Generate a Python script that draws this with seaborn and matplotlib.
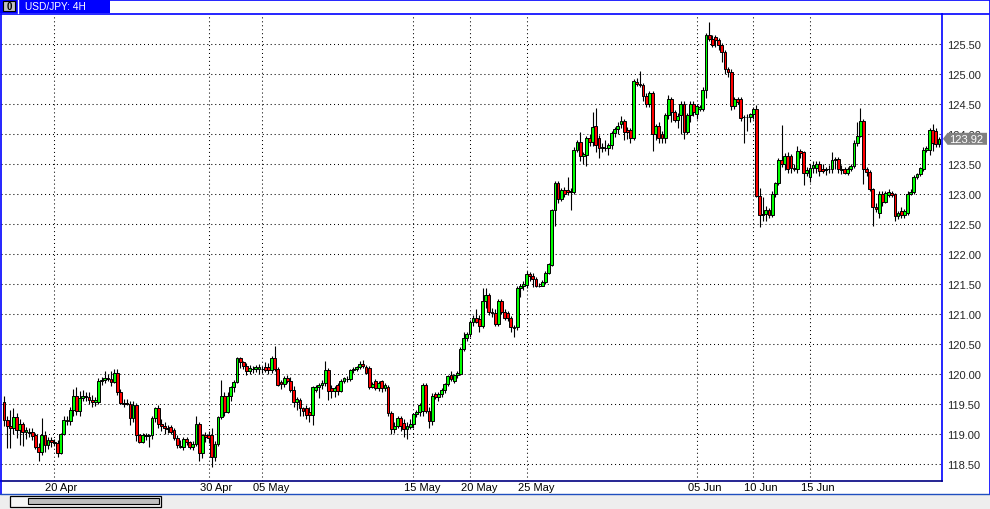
import matplotlib
matplotlib.use("Agg")
import numpy as np
import pandas as pd
import matplotlib.pyplot as plt
import matplotlib.patches as patches
import matplotlib.transforms as mtrans
from matplotlib.lines import Line2D
import seaborn as sns

# 4H candles (oldest first)
OPENS = [
    119.54, 119.24, 119.13, 119.10, 119.28, 119.06, 119.16, 119.03, 119.03, 119.04,
    118.98, 118.79, 118.70, 118.99, 118.82, 118.90, 118.86, 118.85, 118.68, 119.00,
    119.24, 119.21, 119.40, 119.63, 119.38, 119.60, 119.63, 119.62, 119.57, 119.53,
    119.53, 119.88, 119.90, 119.93, 119.91, 119.87, 120.02, 119.70, 119.52, 119.52,
    119.50, 119.26, 119.48, 118.98, 118.87, 118.99, 118.96, 118.98, 119.26, 119.43,
    119.17, 119.13, 119.10, 119.11, 119.07, 118.93, 118.80, 118.78, 118.91, 118.86,
    118.78, 118.83, 119.17, 118.68, 118.99, 118.99, 118.99, 118.61, 118.83, 119.29,
    119.64, 119.37, 119.64, 119.78, 119.87, 120.26, 120.20, 120.14, 120.05, 120.09,
    120.09, 120.08, 120.09, 120.12, 120.12, 120.06, 120.26, 120.08, 119.87, 119.83,
    119.94, 119.89, 119.74, 119.54, 119.57, 119.43, 119.44, 119.37, 119.31, 119.74,
    119.78, 119.81, 119.85, 120.06, 119.77, 119.72, 119.81, 119.72, 119.89, 119.92,
    119.91, 120.06, 120.09, 120.11, 120.17, 120.11, 120.10, 119.79, 119.88, 119.77,
    119.88, 119.76, 119.79, 119.35, 119.09, 119.13, 119.26, 119.18, 119.09, 119.11,
    119.17, 119.33, 119.37, 119.39, 119.82, 119.39, 119.21, 119.66, 119.61, 119.67,
    119.73, 119.83, 119.99, 119.89, 119.98, 120.00, 120.42, 120.60, 120.67, 120.86,
    120.94, 120.92, 120.80, 121.21, 121.31, 121.04, 121.02, 120.83, 121.21, 121.03,
    121.01, 120.93, 120.79, 120.78, 121.44, 121.47, 121.48, 121.67, 121.64, 121.59,
    121.47, 121.47, 121.54, 121.68, 121.82, 122.74, 123.18, 122.91, 123.07, 123.07,
    123.05, 123.03, 123.74, 123.86, 123.64, 123.65, 123.93, 123.86, 124.13, 123.93,
    123.76, 123.77, 123.76, 123.81, 124.02, 124.09, 124.17, 124.22, 124.07, 124.07,
    123.94, 124.87, 124.84, 124.82, 124.63, 124.50, 124.68, 124.00, 124.14, 124.00,
    123.93, 124.31, 124.59, 124.36, 124.24, 124.31, 124.50, 124.04, 124.31, 124.50,
    124.34, 124.42, 124.42, 124.74, 125.65, 125.59, 125.62, 125.57, 125.48, 125.36,
    125.09, 125.04, 124.46, 124.58, 124.58, 124.29, 124.29, 124.29, 124.33, 124.41,
    122.97, 122.65, 122.67, 122.74, 122.65, 123.00, 123.19, 123.57, 123.50, 123.64,
    123.63, 123.42, 123.42, 123.72, 123.70, 123.35, 123.29, 123.44, 123.43, 123.50,
    123.41, 123.40, 123.41, 123.41, 123.57, 123.58, 123.42, 123.41, 123.35, 123.41,
    123.46, 123.85, 123.97, 124.21, 123.42, 123.37, 123.08, 122.78, 122.68, 123.00,
    122.87, 122.99, 123.01, 123.00, 122.63, 122.72, 122.65, 122.69, 123.00, 123.04,
    123.29, 123.33, 123.42, 123.74, 123.74, 124.07, 124.05, 123.83,
]
HIGHS = [
    119.63, 119.30, 119.40, 119.43, 119.35, 119.25, 119.20, 119.12, 119.10, 119.10,
    119.02, 118.85, 119.27, 119.05, 118.95, 118.95, 118.92, 118.90, 119.02, 119.30,
    119.30, 119.45, 119.75, 119.78, 119.72, 119.73, 119.70, 119.70, 119.65, 119.62,
    119.93, 119.95, 120.05, 120.00, 120.05, 120.08, 120.08, 119.75, 119.58, 119.58,
    119.55, 119.55, 119.52, 119.00, 119.02, 119.02, 119.00, 119.30, 119.45, 119.48,
    119.25, 119.20, 119.15, 119.15, 119.10, 118.98, 118.90, 118.95, 118.95, 118.88,
    118.88, 119.30, 119.20, 119.00, 119.03, 119.05, 119.10, 118.88, 119.30, 119.90,
    119.70, 119.70, 119.80, 119.90, 120.28, 120.28, 120.22, 120.18, 120.15, 120.14,
    120.15, 120.16, 120.14, 120.20, 120.18, 120.30, 120.46, 120.12, 119.90, 119.96,
    119.98, 119.95, 119.80, 119.62, 119.60, 119.45, 119.48, 119.45, 119.80, 119.82,
    119.85, 119.90, 120.21, 120.10, 119.82, 119.80, 119.85, 119.92, 119.95, 119.96,
    120.08, 120.12, 120.14, 120.22, 120.24, 120.15, 120.13, 119.86, 119.92, 119.88,
    119.90, 119.85, 119.82, 119.38, 119.20, 119.30, 119.30, 119.25, 119.20, 119.25,
    119.35, 119.40, 119.52, 119.85, 119.85, 119.45, 119.68, 119.70, 119.70, 119.76,
    119.85, 119.98, 120.05, 120.00, 120.05, 120.45, 120.70, 120.70, 120.90, 120.98,
    121.08, 120.98, 121.44, 121.44, 121.35, 121.10, 121.08, 121.25, 121.25, 121.08,
    121.05, 120.96, 120.82, 121.46, 121.50, 121.55, 121.72, 121.70, 121.68, 121.62,
    121.52, 121.56, 121.72, 121.85, 122.75, 123.22, 123.22, 123.10, 123.12, 123.28,
    123.10, 123.78, 123.90, 124.04, 123.70, 123.96, 124.00, 124.37, 124.44, 123.98,
    123.85, 123.90, 123.85, 124.05, 124.12, 124.20, 124.30, 124.25, 124.12, 124.10,
    124.92, 124.93, 125.05, 124.85, 124.68, 124.72, 124.72, 124.16, 124.20, 124.05,
    124.35, 124.65, 124.62, 124.40, 124.35, 124.55, 124.55, 124.35, 124.55, 124.55,
    124.50, 124.48, 124.78, 125.68, 125.86, 125.65, 125.65, 125.60, 125.52, 125.40,
    125.12, 125.08, 124.62, 124.62, 124.62, 124.32, 124.33, 124.35, 124.45, 124.48,
    123.10, 122.95, 122.80, 122.76, 123.05, 123.20, 123.60, 124.15, 123.68, 123.70,
    123.66, 123.50, 123.80, 123.75, 123.72, 123.45, 123.50, 123.55, 123.55, 123.55,
    123.50, 123.45, 123.48, 123.70, 123.62, 123.62, 123.48, 123.45, 123.45, 123.50,
    123.90, 124.20, 124.44, 124.25, 123.45, 123.40, 123.10, 122.85, 123.05, 123.05,
    123.05, 123.08, 123.05, 123.02, 122.72, 122.78, 122.75, 123.05, 123.08, 123.32,
    123.35, 123.45, 123.78, 123.80, 124.10, 124.16, 124.10, 123.95,
]
LOWS = [
    119.13, 118.77, 118.77, 119.00, 118.93, 118.82, 118.80, 118.92, 118.95, 118.90,
    118.75, 118.55, 118.65, 118.70, 118.75, 118.78, 118.80, 118.62, 118.66, 118.98,
    119.15, 119.15, 119.30, 119.32, 119.30, 119.55, 119.55, 119.50, 119.45, 119.46,
    119.50, 119.82, 119.85, 119.88, 119.80, 119.85, 119.65, 119.50, 119.45, 119.48,
    119.15, 119.20, 118.88, 118.85, 118.85, 118.90, 118.78, 118.92, 119.20, 119.10,
    119.05, 119.00, 119.02, 119.00, 118.90, 118.76, 118.76, 118.74, 118.82, 118.75,
    118.74, 118.80, 118.55, 118.60, 118.86, 118.85, 118.45, 118.55, 118.80, 119.25,
    119.30, 119.35, 119.55, 119.70, 119.85, 120.10, 120.08, 119.98, 120.00, 120.02,
    120.03, 120.00, 120.02, 120.04, 120.00, 120.02, 120.05, 119.80, 119.75, 119.78,
    119.85, 119.70, 119.45, 119.40, 119.30, 119.30, 119.25, 119.20, 119.15, 119.70,
    119.60, 119.75, 119.80, 119.57, 119.60, 119.62, 119.65, 119.70, 119.85, 119.86,
    119.88, 120.02, 120.05, 120.08, 120.10, 120.00, 119.75, 119.76, 119.74, 119.72,
    119.70, 119.72, 119.30, 119.00, 119.02, 119.10, 119.05, 118.95, 118.92, 119.08,
    119.10, 119.28, 119.30, 119.30, 119.35, 119.10, 119.15, 119.58, 119.55, 119.62,
    119.68, 119.80, 119.88, 119.85, 119.94, 119.98, 120.38, 120.55, 120.62, 120.80,
    120.85, 120.70, 120.76, 121.10, 120.98, 120.95, 120.80, 120.80, 121.00, 120.90,
    120.88, 120.70, 120.61, 120.74, 121.28, 121.40, 121.44, 121.55, 121.45, 121.45,
    121.45, 121.46, 121.50, 121.66, 121.80, 122.47, 122.85, 122.88, 122.95, 122.98,
    122.74, 123.00, 123.70, 123.55, 123.50, 123.46, 123.80, 123.80, 123.70, 123.60,
    123.70, 123.72, 123.65, 123.75, 123.95, 124.00, 124.10, 123.90, 123.92, 123.85,
    123.90, 124.80, 124.78, 124.55, 124.45, 124.45, 123.72, 123.90, 123.85, 123.85,
    123.85, 124.25, 124.20, 124.20, 124.10, 124.00, 123.92, 124.00, 124.20, 124.30,
    124.25, 124.38, 124.38, 124.60, 125.55, 125.45, 125.45, 125.40, 125.20, 125.00,
    124.95, 124.40, 124.42, 124.50, 124.22, 123.85, 124.05, 124.20, 124.25, 122.95,
    122.45, 122.55, 122.55, 122.60, 122.62, 122.95, 123.15, 123.45, 123.40, 123.35,
    123.35, 123.38, 123.35, 123.60, 123.15, 123.30, 123.20, 123.35, 123.35, 123.30,
    123.35, 123.32, 123.35, 123.35, 123.42, 123.35, 123.33, 123.33, 123.32, 123.38,
    123.44, 123.80, 123.95, 123.17, 123.30, 123.05, 122.47, 122.70, 122.60, 122.80,
    122.85, 122.95, 122.95, 122.55, 122.58, 122.60, 122.60, 122.65, 122.98, 123.00,
    123.25, 123.30, 123.38, 123.70, 123.65, 123.72, 123.78, 123.78,
]
CLOSES = [
    119.24, 119.13, 119.10, 119.28, 119.06, 119.16, 119.03, 119.06, 119.02, 118.96,
    118.79, 118.70, 118.99, 118.82, 118.90, 118.86, 118.85, 118.68, 119.00, 119.24,
    119.21, 119.40, 119.63, 119.38, 119.60, 119.63, 119.62, 119.57, 119.53, 119.56,
    119.88, 119.90, 119.93, 119.91, 119.87, 120.02, 119.70, 119.52, 119.50, 119.50,
    119.26, 119.48, 118.98, 118.87, 118.99, 118.96, 118.98, 119.26, 119.43, 119.17,
    119.13, 119.10, 119.08, 119.04, 118.93, 118.81, 118.79, 118.91, 118.86, 118.78,
    118.84, 119.17, 118.68, 118.99, 118.95, 118.93, 118.61, 118.83, 119.29, 119.64,
    119.37, 119.64, 119.78, 119.87, 120.26, 120.20, 120.14, 120.05, 120.10, 120.09,
    120.11, 120.11, 120.09, 120.07, 120.06, 120.26, 120.08, 119.82, 119.83, 119.94,
    119.89, 119.74, 119.54, 119.59, 119.43, 119.39, 119.31, 119.31, 119.78, 119.78,
    119.81, 119.85, 120.06, 119.72, 119.72, 119.76, 119.72, 119.89, 119.93, 119.91,
    120.06, 120.09, 120.11, 120.17, 120.14, 120.02, 119.79, 119.84, 119.77, 119.85,
    119.76, 119.81, 119.35, 119.09, 119.14, 119.26, 119.14, 119.09, 119.14, 119.17,
    119.33, 119.37, 119.49, 119.82, 119.39, 119.21, 119.63, 119.61, 119.67, 119.74,
    119.83, 119.96, 119.91, 119.98, 120.02, 120.42, 120.60, 120.67, 120.86, 120.94,
    120.87, 120.80, 121.21, 121.31, 121.04, 121.02, 120.83, 121.21, 121.03, 120.94,
    120.93, 120.79, 120.76, 121.44, 121.47, 121.50, 121.67, 121.64, 121.59, 121.47,
    121.46, 121.54, 121.68, 121.83, 122.74, 123.18, 122.91, 123.07, 123.00, 123.03,
    123.03, 123.74, 123.86, 123.64, 123.66, 123.93, 123.86, 124.11, 123.82, 123.76,
    123.78, 123.76, 123.81, 124.02, 124.09, 124.14, 124.22, 124.03, 124.03, 123.94,
    124.88, 124.84, 124.81, 124.63, 124.50, 124.68, 124.00, 124.13, 123.93, 123.93,
    124.31, 124.59, 124.36, 124.24, 124.30, 124.50, 124.04, 124.31, 124.50, 124.36,
    124.46, 124.45, 124.74, 125.65, 125.59, 125.48, 125.57, 125.48, 125.36, 125.09,
    125.04, 124.46, 124.59, 124.54, 124.26, 124.29, 124.29, 124.33, 124.41, 122.97,
    122.65, 122.67, 122.74, 122.65, 123.00, 123.19, 123.56, 123.50, 123.64, 123.42,
    123.43, 123.44, 123.72, 123.69, 123.35, 123.40, 123.44, 123.49, 123.50, 123.39,
    123.39, 123.42, 123.42, 123.57, 123.58, 123.42, 123.40, 123.35, 123.41, 123.46,
    123.85, 123.96, 124.21, 123.42, 123.37, 123.08, 122.78, 122.75, 123.00, 122.87,
    123.02, 123.04, 122.99, 122.63, 122.69, 122.65, 122.72, 123.00, 123.04, 123.29,
    123.33, 123.43, 123.74, 123.77, 124.07, 123.85, 123.83, 123.92,
]

PRICE_TICKS = [118.5, 119.0, 119.5, 120.0, 120.5, 121.0, 121.5, 122.0,
               122.5, 123.0, 123.5, 124.0, 124.5, 125.0, 125.5]
DATE_BARS = [16, 65, 82, 130, 148, 166, 220, 238, 256]
DATE_LABELS = ["20 Apr", "30 Apr", "05 May", "15 May", "20 May",
               "25 May", "05 Jun", "10 Jun", "15 Jun"]
SYMBOL = "USD/JPY: 4H"
LAST_PRICE = 123.92

W, H = 990, 510
BULL = "#00ff00"
BEAR = "#ff0000"
FRAME = "#0000ff"


def fx(x):
    return x / W


def fy(y):
    return 1 - y / H


df = pd.DataFrame({"open": OPENS, "high": HIGHS, "low": LOWS, "close": CLOSES})
df["bar"] = np.arange(len(df))
df["up"] = df["close"] >= df["open"]

sns.set_style("white")
plt.rcParams["font.family"] = ["Liberation Sans", "DejaVu Sans"]

fig = plt.figure(figsize=(W / 100, H / 100), dpi=100)
fig.patch.set_facecolor("white")

# plot area: x 1..942, y 15..482 px
ax = fig.add_axes([fx(1), fy(482), fx(941), (482 - 15) / H])
n = len(df)
ax.set_xlim(-0.95, n - 1 + 0.95)
ax.set_ylim(118.217, 126.0)

ax.vlines(df["bar"], df["low"], df["high"], color="black", linewidth=0.8, zorder=2)
ax.bar(df["bar"], (df["close"] - df["open"]).abs(),
       bottom=df[["open", "close"]].min(axis=1), width=0.9,
       color=np.where(df["up"], BULL, BEAR), edgecolor="black",
       linewidth=0.7, zorder=3)

ax.set_yticks(PRICE_TICKS)
ax.set_yticklabels([f"{p:.2f}" for p in PRICE_TICKS], fontsize=8)
ax.yaxis.tick_right()
ax.tick_params(axis="y", length=0, pad=4)
ax.set_xticks(DATE_BARS)
ax.set_xticklabels([])
ax.tick_params(axis="x", length=0)
ax.grid(True, color="black", linestyle=(0, (1, 2.8)), linewidth=0.75)
ax.set_axisbelow(True)

for side in ["left", "top", "right"]:
    ax.spines[side].set_color(FRAME)
    ax.spines[side].set_linewidth(1.2)
ax.spines["bottom"].set_color("#000080")
ax.spines["bottom"].set_linewidth(1.2)

# date labels below the plot
trans = mtrans.blended_transform_factory(ax.transData, fig.transFigure)
trans = mtrans.offset_copy(trans, fig=fig, x=-9, y=0, units="dots")
for b, lab in zip(DATE_BARS, DATE_LABELS):
    ax.text(b, fy(483.5), lab, transform=trans, ha="left", va="top",
            fontsize=8, color="black")

# last price marker
ylast = 375 + (120 - LAST_PRICE) * 60
marker = patches.Polygon(
    [(fx(943), fy(ylast)), (fx(947.5), fy(ylast - 6)), (fx(987), fy(ylast - 6)),
     (fx(987), fy(ylast + 6)), (fx(947.5), fy(ylast + 6))],
    closed=True, transform=fig.transFigure, facecolor="#808080",
    edgecolor="none", zorder=10)
fig.add_artist(marker)
fig.text(fx(949), fy(ylast), f"{LAST_PRICE:.2f}", color="white", fontsize=8,
         ha="left", va="center", zorder=11)

# window frame
fig.add_artist(Line2D([fx(110), 1], [fy(0.5), fy(0.5)], color=FRAME, linewidth=1.2))
fig.add_artist(Line2D([fx(989.5), fx(989.5)], [fy(0), fy(495)], color=FRAME, linewidth=1.2))
fig.add_artist(Line2D([fx(0.6), fx(0.6)], [fy(482), fy(495)], color=FRAME, linewidth=1.2))
fig.add_artist(Line2D([fx(942), fx(989)], [fy(15), fy(15)], color=FRAME, linewidth=1.2))

# title tab
fig.add_artist(patches.Rectangle((0, fy(14)), fx(110), 14 / H, transform=fig.transFigure,
                                 facecolor=FRAME, edgecolor="none"))
fig.add_artist(patches.Rectangle((fx(3), fy(12)), fx(12), 10 / H, transform=fig.transFigure,
                                 facecolor="#c0c0c0", edgecolor="black", linewidth=0.8))
fig.text(fx(9), fy(7), "0", fontsize=7, fontweight="bold", ha="center", va="center",
         color="black")
fig.add_artist(Line2D([fx(17.5), fx(17.5)], [fy(0), fy(14)], color="white", linewidth=1))
fig.text(fx(25), fy(7.5), SYMBOL, fontsize=7.3, color="white", ha="left", va="center")

# scrollbar strip
fig.add_artist(patches.Rectangle((0, 0), 1, 15 / H, transform=fig.transFigure,
                                 facecolor="#eeeeee", edgecolor="none"))
fig.add_artist(Line2D([0, 1], [fy(495), fy(495)], color="#1f4fbf", linewidth=1))
fig.add_artist(patches.Rectangle((fx(10), fy(508)), fx(151), 11 / H, transform=fig.transFigure,
                                 facecolor="#f6f6f6", edgecolor="black", linewidth=0.9))
fig.add_artist(patches.Rectangle((fx(28), fy(505)), fx(131), 6 / H, transform=fig.transFigure,
                                 facecolor="#c0c0c0", edgecolor="black", linewidth=0.8))

fig.savefig("out.png", dpi=100)
